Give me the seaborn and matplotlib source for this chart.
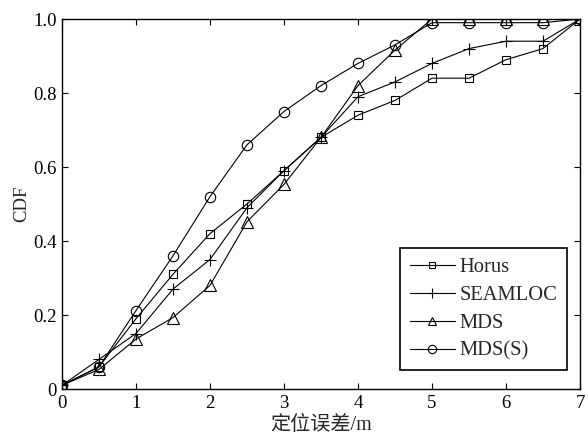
import matplotlib
matplotlib.use("Agg")
import matplotlib.pyplot as plt
import seaborn as sns
import pandas as pd

# Positioning error (m) and the cumulative distribution of each method
error_m = [0, 0.5, 1, 1.5, 2, 2.5, 3, 3.5, 4, 4.5, 5, 5.5, 6, 6.5, 7]
horus = [0.01, 0.06, 0.19, 0.31, 0.42, 0.50, 0.59, 0.68, 0.74, 0.78, 0.84, 0.84, 0.89, 0.92, 1.0]
seamloc = [0.01, 0.08, 0.15, 0.27, 0.35, 0.49, 0.59, 0.68, 0.79, 0.83, 0.88, 0.92, 0.94, 0.94, 1.0]
mds = [0.01, 0.053, 0.135, 0.193, 0.28, 0.452, 0.553, 0.68, 0.82, 0.916, 1.0, 1.0, 1.0, 1.0, 1.0]
mds_s = [0.01, 0.06, 0.212, 0.36, 0.52, 0.66, 0.75, 0.82, 0.88, 0.93, 0.99, 0.99, 0.99, 0.99, 1.0]

methods = ["Horus", "SEAMLOC", "MDS", "MDS(S)"]
series = [horus, seamloc, mds, mds_s]
markers = ["s", "+", "^", "o"]
marker_sizes = [6.0, 8.5, 8.0, 7.5]

x_ticks = [0, 1, 2, 3, 4, 5, 6, 7]
y_ticks = [0, 0.2, 0.4, 0.6, 0.8, 1.0]
y_tick_labels = ["0", "0.2", "0.4", "0.6", "0.8", "1.0"]

df = pd.concat(
    [pd.DataFrame({"误差": error_m, "CDF": vals, "方法": name})
     for name, vals in zip(methods, series)],
    ignore_index=True,
)

sns.set_style("ticks")
plt.rcParams["font.family"] = ["Liberation Serif", "Noto Sans CJK SC"]
plt.rcParams["xtick.direction"] = "in"
plt.rcParams["ytick.direction"] = "in"

fig = plt.figure(figsize=(5.88, 4.37), dpi=100)
ax = fig.add_axes([62 / 588, 48 / 437, 518 / 588, 370 / 437])

for name, mk, ms in zip(methods, markers, marker_sizes):
    sub = df[df["方法"] == name]
    sns.lineplot(
        data=sub, x="误差", y="CDF", ax=ax, color="black", linewidth=0.8,
        marker=mk, markersize=ms, markerfacecolor="none",
        markeredgecolor="black", markeredgewidth=0.8, label=name,
        estimator=None, sort=False,
    )

ax.set_xlim(0, 7)
ax.set_ylim(0, 1.0)
ax.set_xticks(x_ticks)
ax.set_xticklabels([str(t) for t in x_ticks])
ax.set_yticks(y_ticks)
ax.set_yticklabels(y_tick_labels)
ax.tick_params(axis="both", which="both", direction="in", length=4.5, width=0.8,
               top=True, right=True, labelsize=13.5, pad=4, colors="black")
for side in ["top", "right", "bottom", "left"]:
    ax.spines[side].set_visible(True)
    ax.spines[side].set_linewidth(1.0)
    ax.spines[side].set_color("black")

ax.set_xlabel("定位误差/m", fontsize=14.5,
              family=["Liberation Serif", "Noto Sans CJK SC"], labelpad=3)
ax.set_ylabel("CDF", fontsize=13.5, labelpad=2)

leg = ax.legend(loc="lower right", bbox_to_anchor=(0.975, 0.051),
                borderaxespad=0, fancybox=False, framealpha=1,
                edgecolor="black", fontsize=14.8, handlelength=2.2,
                handletextpad=0.25, labelspacing=0.42, borderpad=0.45,
                markerscale=0.8)
leg.get_frame().set_linewidth(1.2)

fig.savefig("out.png", dpi=100)
